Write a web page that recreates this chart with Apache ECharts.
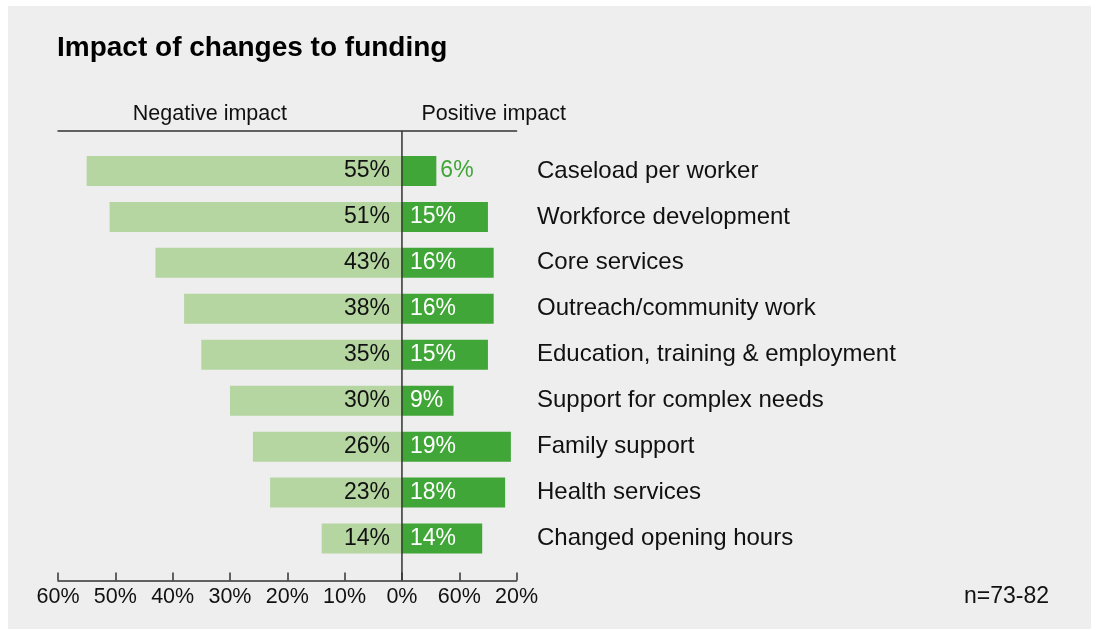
<!DOCTYPE html>
<html>
<head>
<meta charset="utf-8">
<script src="https://cdn.jsdelivr.net/npm/echarts@6/dist/echarts.min.js"></script>
<style>
html,body{margin:0;padding:0;background:#ffffff;}
#chart{width:1096px;height:630px;}
</style>
</head>
<body>
<div id="chart"></div>
<script>
const categories = [
  'Caseload per worker',
  'Workforce development',
  'Core services',
  'Outreach/community work',
  'Education, training & employment',
  'Support for complex needs',
  'Family support',
  'Health services',
  'Changed opening hours'
];
const negativeValues = [55, 51, 43, 38, 35, 30, 26, 23, 14];
const positiveValues = [6, 15, 16, 16, 15, 9, 19, 18, 14];
const tickLabels = ['60%', '50%', '40%', '30%', '20%', '10%', '0%', '60%', '20%'];

const LIGHT = '#b5d5a1';
const DARK = '#40a637';
const FONT = '"Liberation Sans", Arial, Helvetica, sans-serif';

const chart = echarts.init(document.getElementById('chart'), null, {renderer: 'canvas'});

const AX_MIN = -60, AX_MAX = 20, AX_INT = 10;

const option = {
  backgroundColor: '#ffffff',
  animation: false,
  textStyle: {fontFamily: FONT},
  title: {
    text: 'Impact of changes to funding',
    left: 52, top: 29,
    textStyle: {fontFamily: FONT, fontSize: 28, fontWeight: 'bold', color: '#000'}
  },
  grid: {left: 58, right: 579.4, top: 148, bottom: 68.5, containLabel: false},
  xAxis: [{
    type: 'value', min: AX_MIN, max: AX_MAX, interval: AX_INT,
    position: 'bottom', offset: 19,
    axisLine: {show: true, onZero: false, lineStyle: {color: '#333', width: 1.5}},
    axisTick: {show: true, inside: true, length: 8, lineStyle: {color: '#333', width: 1.5}},
    splitLine: {show: false},
    axisLabel: {
      margin: 6, fontSize: 21.5, color: '#111', fontFamily: FONT,
      formatter: function (v) {
        const i = Math.round((v - AX_MIN) / AX_INT);
        return tickLabels[i] !== undefined ? tickLabels[i] : '';
      }
    }
  }, {
    type: 'value', min: AX_MIN, max: AX_MAX, interval: AX_INT,
    position: 'top', offset: 17,
    axisLine: {show: true, onZero: false, lineStyle: {color: '#333', width: 1.5}},
    axisTick: {show: false}, axisLabel: {show: false}, splitLine: {show: false}
  }],
  yAxis: [{
    type: 'category', data: categories, inverse: true,
    axisLine: {show: false}, axisTick: {show: false}, axisLabel: {show: false},
    splitLine: {show: false}
  }, {
    type: 'category', data: categories, inverse: true, position: 'right',
    axisLine: {show: false, onZero: false}, axisTick: {show: false},
    axisLabel: {show: true, align: 'left', margin: 20.4, fontSize: 24, color: '#111', fontFamily: FONT},
    splitLine: {show: false}
  }],
  series: [{
    name: 'Negative impact', type: 'bar', xAxisIndex: 0, yAxisIndex: 0,
    barWidth: 30, barGap: '-100%',
    itemStyle: {color: LIGHT},
    label: {
      show: true, position: 'insideRight', distance: 12,
      fontSize: 23, color: '#111', fontFamily: FONT,
      formatter: function (p) { return Math.abs(p.value) + '%'; }
    },
    data: negativeValues.map(v => -v)
  }, {
    name: 'Positive impact', type: 'bar', xAxisIndex: 0, yAxisIndex: 0,
    barWidth: 30, barGap: '-100%',
    itemStyle: {color: DARK},
    label: {
      show: true, position: 'insideLeft', distance: 8,
      fontSize: 23, color: '#ffffff', fontFamily: FONT,
      formatter: function (p) { return p.value + '%'; }
    },
    data: positiveValues.map(v => v < 8
      ? {value: v, label: {position: 'right', distance: 4, color: DARK}}
      : v)
  }]
};

chart.setOption(option);

const x0 = chart.convertToPixel({xAxisIndex: 0}, 0);
const xNegMid = chart.convertToPixel({xAxisIndex: 0}, -33.5);
const xPosMid = chart.convertToPixel({xAxisIndex: 0}, 16);

chart.setOption({
  graphic: [{
    type: 'rect', z: -10, silent: true,
    shape: {x: 8, y: 6, width: 1083, height: 623},
    style: {fill: '#eeeeee'}
  }, {
    type: 'line', z: 10, silent: true,
    shape: {x1: x0, y1: 131, x2: x0, y2: 580.5},
    style: {stroke: '#333', lineWidth: 1.5}
  }, {
    type: 'text', silent: true,
    x: xNegMid, y: 114,
    style: {text: 'Negative impact', fontSize: 21.5, fontFamily: FONT, fill: '#111', align: 'center', verticalAlign: 'middle'}
  }, {
    type: 'text', silent: true,
    x: xPosMid, y: 114,
    style: {text: 'Positive impact', fontSize: 21.5, fontFamily: FONT, fill: '#111', align: 'center', verticalAlign: 'middle'}
  }, {
    type: 'text', silent: true,
    x: 1049, y: 597,
    style: {text: 'n=73-82', fontSize: 23, fontFamily: FONT, fill: '#111', align: 'right', verticalAlign: 'middle'}
  }]
});
</script>
</body>
</html>
